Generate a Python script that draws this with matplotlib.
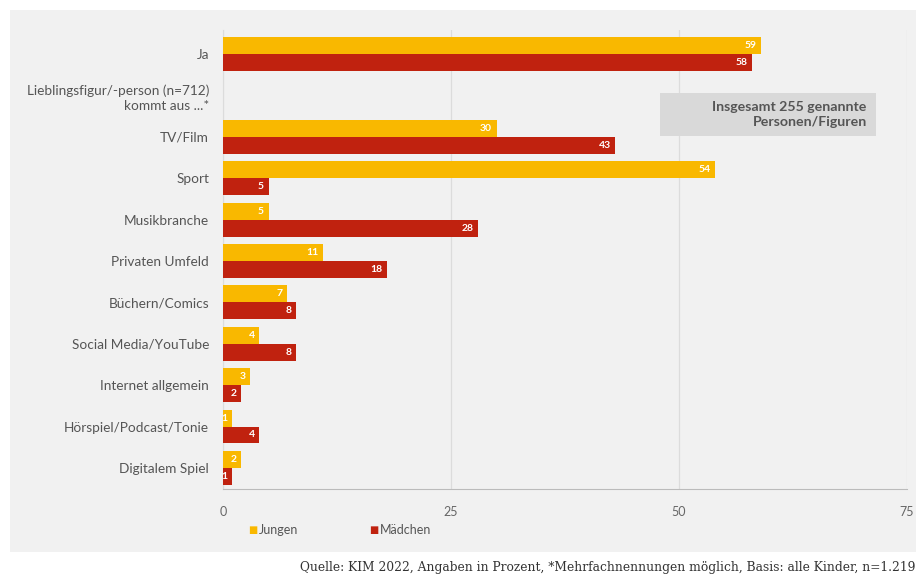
import matplotlib.pyplot as plt
from matplotlib.patches import Rectangle

categories = ["Ja", "Lieblingsfigur/-person (n=712)\nkommt aus ...*", "TV/Film", "Sport",
              "Musikbranche", "Privaten Umfeld", "Büchern/Comics", "Social Media/YouTube",
              "Internet allgemein", "Hörspiel/Podcast/Tonie", "Digitalem Spiel"]
jungen = [59, None, 30, 54, 5, 11, 7, 4, 3, 1, 2]
maedchen = [58, None, 43, 5, 28, 18, 8, 8, 2, 4, 1]
xticks = [0, 25, 50, 75]

YELLOW = "#F9B800"
RED = "#C0220F"
PANEL = "#F1F1F1"
TXT = "#555555"

plt.rcParams['font.family'] = ['Lato', 'DejaVu Sans']

fig = plt.figure(figsize=(9.16, 5.77), dpi=100)
fig.patch.set_facecolor("white")
# grey panel behind the chart
fig.patches.append(Rectangle((10 / 916, 1 - 552 / 577), 1.0, (552 - 10) / 577,
                             transform=fig.transFigure, facecolor=PANEL, edgecolor="none", zorder=-5))

ax = fig.add_axes([223 / 916, 1 - 489 / 577, (907 - 223) / 916, (489 - 30) / 577])
ax.set_facecolor(PANEL)

h = 0.41
for i, (j, m) in enumerate(zip(jungen, maedchen)):
    if j is None:
        continue
    ax.barh(i - h / 2, j, height=h, color=YELLOW, zorder=3)
    ax.barh(i + h / 2, m, height=h, color=RED, zorder=3)
    ax.text(j - 0.5, i - h / 2, str(j), color="white", fontsize=7.5, fontweight="bold",
            ha="right", va="center", zorder=4)
    ax.text(m - 0.5, i + h / 2, str(m), color="white", fontsize=7.5, fontweight="bold",
            ha="right", va="center", zorder=4)

ax.set_ylim(10.51, -0.58)
ax.set_xlim(0, 75)
ax.set_yticks(range(len(categories)))
ax.set_yticklabels(categories, fontsize=9.8, color=TXT, linespacing=1.3)
ax.get_yticklabels()[1].set_y(0.8)
ax.set_xticks(xticks)
ax.set_xticklabels([str(t) for t in xticks], fontsize=9, color="#666666")
ax.tick_params(axis="both", length=0, pad=12)
ax.tick_params(axis="y", pad=10)
ax.grid(axis="x", color="#DCDCDC", linewidth=0.9, zorder=0)
for s in ["top", "right"]:
    ax.spines[s].set_visible(False)
ax.spines["left"].set_color("#DCDCDC")
ax.spines["bottom"].set_color("#BBBBBB")

# note box
ax.add_patch(Rectangle((47.9, 0.94), 71.6 - 47.9, 1.04, facecolor="#D9D9D9",
                       edgecolor="none", zorder=4))
ax.text(70.6, 1.46, "Insgesamt 255 genannte\nPersonen/Figuren", ha="right", va="center",
        fontsize=10.2, fontweight="bold", color="#555555", linespacing=1.25, zorder=5)

# legend
fig.text(248 / 916, 1 - 530 / 577, "\u25A0", color=YELLOW, fontsize=7, va="center")
fig.text(259 / 916, 1 - 530 / 577, "Jungen", color=TXT, fontsize=9, va="center")
fig.text(369 / 916, 1 - 530 / 577, "\u25A0", color=RED, fontsize=7, va="center")
fig.text(380 / 916, 1 - 530 / 577, "Mädchen", color=TXT, fontsize=9, va="center")

fig.text(300 / 916, 1 - 568 / 577,
         "Quelle: KIM 2022, Angaben in Prozent, *Mehrfachnennungen möglich, Basis: alle Kinder, n=1.219",
         family=["DejaVu Serif"], fontsize=8.8, color="#333333", va="center")

fig.savefig("out.png", dpi=100, facecolor="white")
